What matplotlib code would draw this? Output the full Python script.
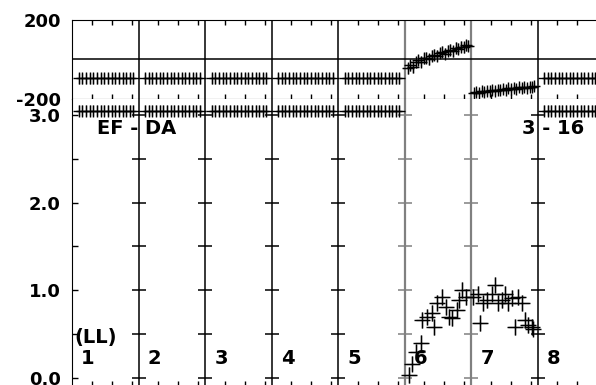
#!/usr/bin/env python

import matplotlib
matplotlib.use('Agg')
import matplotlib.pyplot as plt


fs = 14
tfs = 13
plt.rcParams['font.family'] = ['DejaVu Sans']
plt.rcParams['font.weight'] = 'bold'

# column layout: column i spans x in [i-1, i]
col_labels = ['1', '2', '3', '4', '5', '6', '7', '8']
gray_cols = [5, 6]                       # boundaries drawn in gray
flat_cols = [0, 1, 2, 3, 4, 7]           # columns holding constant rows
row_offsets = [0.10, 0.155, 0.21, 0.265, 0.32, 0.375, 0.43, 0.485,
               0.54, 0.595, 0.65, 0.705, 0.76, 0.815, 0.87, 0.92]
top_flat_level = -95.0
bot_flat_level = 3.05

# upper panel, columns 6 and 7
top6_x = [5.05, 5.09, 5.13, 5.17, 5.21, 5.25, 5.29, 5.33, 5.37, 5.41, 5.45, 5.49,
          5.53, 5.57, 5.61, 5.65, 5.69, 5.73, 5.77, 5.81, 5.85, 5.89, 5.93, 5.96]
top6_y = [-45, -30, -38, -15, -5, -12, 5, 10, 2, 20, 25, 18,
          32, 38, 30, 45, 50, 42, 58, 55, 65, 62, 72, 70]
top7_x = [6.04, 6.08, 6.12, 6.16, 6.20, 6.24, 6.28, 6.32, 6.36, 6.40, 6.44, 6.48,
          6.52, 6.56, 6.60, 6.64, 6.68, 6.72, 6.76, 6.80, 6.84, 6.88, 6.92, 6.95]
top7_y = [-172, -165, -168, -160, -163, -158, -161, -155, -158, -152, -155, -149,
          -152, -146, -150, -144, -147, -141, -145, -139, -142, -137, -140, -135]

# lower panel, columns 6 and 7
bot6_x = [5.075, 5.12, 5.18, 5.255, 5.27, 5.345, 5.42, 5.45, 5.495, 5.57, 5.63,
          5.675, 5.72, 5.795, 5.825, 5.87, 5.93]
bot6_y = [0.03, 0.16, 0.29, 0.40, 0.66, 0.69, 0.74, 0.58, 0.85, 0.92, 0.81,
          0.69, 0.68, 0.77, 0.89, 1.00, 0.92]
bot7_x = [6.03, 6.105, 6.135, 6.18, 6.24, 6.315, 6.36, 6.405, 6.465, 6.51, 6.555,
          6.615, 6.66, 6.705, 6.765, 6.81, 6.855, 6.915, 6.93]
bot7_y = [0.92, 0.96, 0.62, 0.85, 0.89, 0.96, 1.06, 0.85, 0.89, 0.96, 0.85,
          0.91, 0.58, 0.92, 0.85, 0.66, 0.60, 0.58, 0.56]

bot_levels = [0.0, 0.5, 1.0, 1.5, 2.0, 2.5, 3.0]


def draw_points(ax, x, y, yerr, xerr=None, ms=9):
    ax.errorbar(x, y, yerr=yerr, xerr=xerr, fmt='+', ms=ms, mew=1.0,
                color='k', ecolor='0.4', elinewidth=1.0, capsize=0, zorder=3)


def setup_x(ax, top, bottom):
    ax.set_xlim(0, 8)
    ax.set_xticks([])
    minor = [c + f for c in range(8) for f in (0.3, 0.6, 0.9)]
    ax.set_xticks(minor, minor=True)
    ax.tick_params(axis='x', which='minor', direction='in', length=3.5,
                   top=top, bottom=bottom, width=1.0)
    for b in range(1, 8):
        col = '0.5' if b in gray_cols else 'k'
        lw = 1.6 if b in gray_cols else 1.1
        ax.axvline(b, color=col, lw=lw, zorder=1)


def main():
    fig = plt.figure(figsize=(5.96, 3.85), dpi=100)
    ax_t = fig.add_axes([72/596, 0.7429, 532/596, 0.2052])
    ax_b = fig.add_axes([72/596, -0.0026, 532/596, 0.7455])

    # upper panel
    setup_x(ax_t, True, True)
    ax_t.set_ylim(-200, 200)
    ax_t.set_yticks([200, -200])
    ax_t.set_yticklabels(['200', '-200'], fontsize=tfs, fontweight='bold')
    ax_t.tick_params(axis='y', length=0, pad=8)
    ax_t.axhline(0, color='k', lw=1.1, zorder=1)
    for c in flat_cols:
        xs = [c + o for o in row_offsets]
        draw_points(ax_t, xs, [top_flat_level] * len(xs), 28)
    draw_points(ax_t, top6_x, top6_y, 28, 0.07)
    draw_points(ax_t, top7_x, top7_y, 20, 0.07)

    # lower panel
    setup_x(ax_b, False, True)
    ax_b.spines['top'].set_visible(False)
    ax_b.set_ylim(-0.097, 3.183)
    ax_b.set_yticks([0, 1, 2, 3])
    ax_b.set_yticklabels(['0.0', '1.0', '2.0', '3.0'], fontsize=tfs,
                         fontweight='bold')
    ax_b.set_yticks(bot_levels, minor=True)
    ax_b.tick_params(axis='y', which='both', direction='in', length=4,
                     width=1.0, pad=8)
    for b in range(1, 8):
        col = '0.5' if b in gray_cols else 'k'
        ax_b.plot([b] * len(bot_levels), bot_levels, ls='', marker='_',
                  ms=10, mew=1.1, color=col, zorder=2, clip_on=False)
    for c in flat_cols:
        xs = [c + o for o in row_offsets]
        draw_points(ax_b, xs, [bot_flat_level] * len(xs), 0.06)
    draw_points(ax_b, bot6_x, bot6_y, 0.09, 0.1, ms=11)
    draw_points(ax_b, bot7_x, bot7_y, 0.09, 0.1, ms=11)

    # annotations
    ax_b.text(0.37, 2.85, 'EF - DA', fontsize=fs, fontweight='bold',
              ha='left', va='center')
    ax_b.text(6.76, 2.85, '3 - 16', fontsize=fs, fontweight='bold',
              ha='left', va='center')
    ax_b.text(0.03, 0.46, '(LL)', fontsize=fs, fontweight='bold',
              ha='left', va='center')
    for i, lab in enumerate(col_labels):
        ax_b.text(i + 0.14, 0.22, lab, fontsize=fs, fontweight='bold',
                  ha='left', va='center')

    plt.savefig('out.png', dpi=100)
    plt.close()


if __name__ == "__main__":
    main()
